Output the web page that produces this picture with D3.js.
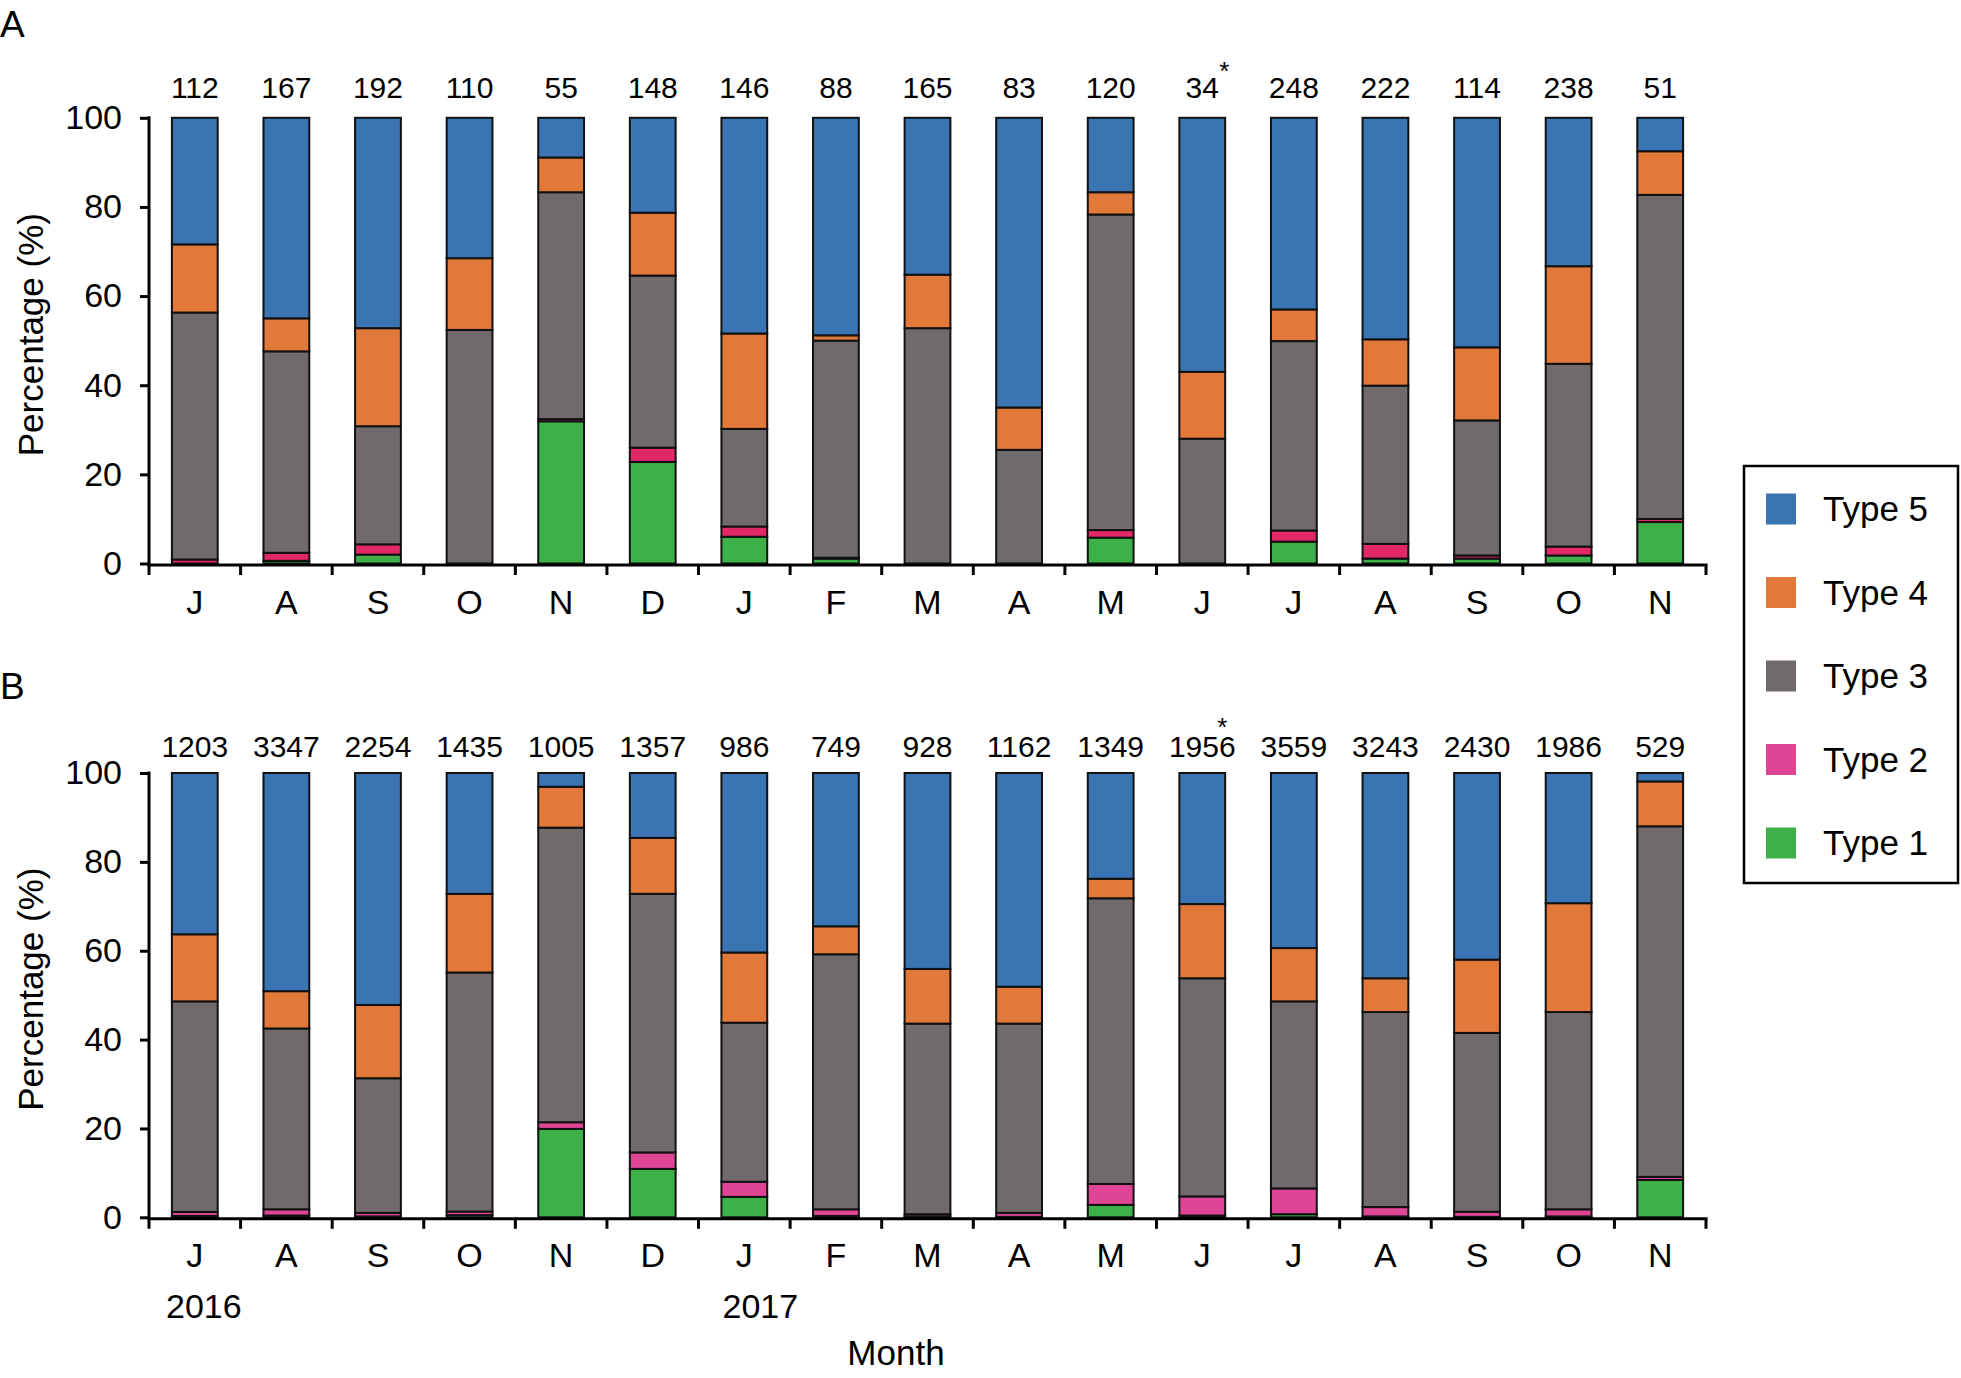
<!DOCTYPE html>
<html><head><meta charset="utf-8">
<script src="https://cdn.jsdelivr.net/npm/d3@7"></script>
<style>
body{margin:0;background:#fff;}
text{font-family:"Liberation Sans",Arial,sans-serif;fill:#000;}
</style></head>
<body>
<svg id="chart" width="1961" height="1378"></svg>
<script>
const months = ["J","A","S","O","N","D","J","F","M","A","M","J","J","A","S","O","N"];
const countsA = ["112","167","192","110","55","148","146","88","165","83","120","34","248","222","114","238","51"];
const countsB = ["1203","3347","2254","1435","1005","1357","986","749","928","1162","1349","1956","3559","3243","2430","1986","529"];
const starIndex = 11;
const yTicks = [0,20,40,60,80,100];
const typeNames = ["Type 1","Type 2","Type 3","Type 4","Type 5"];

// Panel A (%)
const a_type1 = [0,0.6,2.0,0,31.9,22.8,6.0,1.1,0,0,5.8,0,4.9,1.1,1.1,1.8,9.3];
const a_type2 = [0.9,1.8,2.3,0,0.5,3.2,2.3,0.2,0,0,1.7,0,2.5,3.3,0.7,2.0,0.7];
const a_type3 = [55.4,45.2,26.5,52.4,50.9,38.6,21.9,48.7,52.8,25.5,70.8,28.0,42.5,35.5,30.3,41.0,72.7];
const a_type4 = [15.3,7.4,22.0,16.1,7.8,14.1,21.4,1.2,12.0,9.5,5.0,15.0,7.1,10.4,16.4,21.9,9.8];
const a_type5 = [28.4,45.0,47.2,31.5,8.9,21.3,48.4,48.8,35.2,65.0,16.7,57.0,43.0,49.7,51.5,33.3,7.5];

// Panel B (%)
const b_type1 = [0.3,0.4,0.2,0.5,19.9,10.9,4.6,0.3,0.2,0.1,2.8,0.4,0.7,0.2,0.1,0.2,8.4];
const b_type2 = [0.9,1.4,0.8,0.8,1.5,3.7,3.4,1.5,0.5,0.9,4.7,4.3,5.8,2.1,1.15,1.6,0.7];
const b_type3 = [47.4,40.7,30.3,53.8,66.3,58.2,35.8,57.4,42.9,42.6,64.3,49.1,42.1,43.9,40.25,44.4,78.9];
const b_type4 = [15.1,8.4,16.5,17.7,9.2,12.6,15.8,6.3,12.3,8.3,4.4,16.7,12.0,7.6,16.5,24.5,10.1];
const b_type5 = [36.3,49.1,52.2,27.2,3.1,14.6,40.4,34.5,44.1,48.1,23.8,29.5,39.4,46.2,42.0,29.3,1.9];

const colors = ["#3eb049","#e3286a","#706a6c","#e2783a","#3a74b2"];
const colorsB = ["#3eb049","#df4595","#706a6c","#e2783a","#3a74b2"];
const legendColors = ["#3eb049","#df4595","#706a6c","#e2783a","#3a74b2"];

const svg = d3.select("#chart");
const xLeft = 149, xRight = 1706;
const x = d3.scaleBand().domain(d3.range(months.length)).range([xLeft, xRight]).paddingInner(0.5).paddingOuter(0.25);

function panel(cfg){
  const {types, counts, y0, y100, letter, letterY, cols, countOffset, star} = cfg;
  const y = d3.scaleLinear().domain([0,100]).range([y0, y100]);
  const rows = months.map((m,i)=>{const r={i}; types.forEach((t,k)=>r["t"+k]=t[i]); return r;});
  const keys = types.map((t,k)=>"t"+k);
  const stacked = d3.stack().keys(keys)(rows);
  const g = svg.append("g");
  g.selectAll("g.layer").data(stacked).join("g").attr("class","layer")
    .attr("fill",(d,k)=>cols[k])
    .selectAll("rect").data(d=>d.filter(s=>s[1]-s[0]>0)).join("rect")
    .attr("x",d=>x(d.data.i)).attr("width",x.bandwidth())
    .attr("y",d=>y(d[1])).attr("height",d=>y(d[0])-y(d[1]))
    .attr("stroke","#111").attr("stroke-width",2);

  // y axis
  const ya = d3.axisLeft(y).tickValues(yTicks).tickSize(9).tickPadding(18).tickFormat(d3.format("d"));
  const yg = g.append("g").attr("transform",`translate(${xLeft},0)`).call(ya);
  yg.select(".domain").remove();
  yg.selectAll(".tick line").attr("stroke","#000").attr("stroke-width",3);
  yg.selectAll(".tick text").attr("font-size",34).attr("font-family","Liberation Sans, Arial, sans-serif").attr("fill","#000");
  g.append("line").attr("x1",xLeft).attr("x2",xLeft).attr("y1",y(100)-1.5).attr("y2",y(0)+2)
    .attr("stroke","#000").attr("stroke-width",3);

  // x axis
  const axY = y(0)+1.5;
  g.append("line").attr("x1",xLeft-1.5).attr("x2",xRight+1.5).attr("y1",axY).attr("y2",axY)
    .attr("stroke","#000").attr("stroke-width",3);
  const bounds = d3.range(months.length+1).map(i=>xLeft + i*x.step());
  g.selectAll("line.xt").data(bounds).join("line").attr("class","xt")
    .attr("x1",d=>d).attr("x2",d=>d).attr("y1",axY).attr("y2",axY+10)
    .attr("stroke","#000").attr("stroke-width",3);
  g.selectAll("text.mon").data(months).join("text").attr("class","mon")
    .attr("x",(d,i)=>x(i)+x.bandwidth()/2).attr("y",y(0)+50)
    .attr("text-anchor","middle").attr("font-size",34).text(d=>d);

  // counts (the starred one carries its asterisk as a second text chunk)
  const cnt = g.selectAll("text.cnt").data(counts).join("text").attr("class","cnt")
    .attr("x",(d,i)=>x(i)+x.bandwidth()/2).attr("y",y(100)-countOffset)
    .attr("text-anchor","middle").attr("font-size",30).text(d=>d);
  const starText = cnt.filter((d,i)=>i===starIndex);
  starText.append("tspan").attr("x",star.dx + x(starIndex)+x.bandwidth()/2).attr("y",star.y)
    .attr("font-size",26).text("*");

  // y title
  const my = (y0+y100)/2 - 6;
  g.append("text").attr("transform",`translate(43,${my}) rotate(-90)`)
    .attr("text-anchor","middle").attr("font-size",35).text("Percentage (%)");
  g.append("text").attr("x",0).attr("y",letterY).attr("font-size",37).text(letter);
  return y;
}

panel({types:[a_type1,a_type2,a_type3,a_type4,a_type5], counts:countsA, y0:563.5, y100:117.8,
  letter:"A", letterY:37, cols:colors, countOffset:20, star:{dx:22,y:80}});
panel({types:[b_type1,b_type2,b_type3,b_type4,b_type5], counts:countsB, y0:1217.3, y100:773,
  letter:"B", letterY:699, cols:colorsB, countOffset:16, star:{dx:20,y:736}});

// years and axis title
svg.append("text").attr("x",x(0)+x.bandwidth()/2+9).attr("y",1318).attr("text-anchor","middle").attr("font-size",34).text("2016");
svg.append("text").attr("x",x(6)+x.bandwidth()/2+16).attr("y",1318).attr("text-anchor","middle").attr("font-size",34).text("2017");
svg.append("text").attr("x",896).attr("y",1365).attr("text-anchor","middle").attr("font-size",35).text("Month");

// legend
const lg = svg.append("g");
lg.append("rect").attr("x",1744).attr("y",466).attr("width",214).attr("height",417)
  .attr("fill","#fff").attr("stroke","#000").attr("stroke-width",2.5);
const legOrder = [4,3,2,1,0];
legOrder.forEach((k,j)=>{
  const cy = 509 + j*83.5;
  lg.append("rect").attr("x",1766).attr("y",cy-15.5).attr("width",30).attr("height",31).attr("fill",legendColors[k]);
  lg.append("text").attr("x",1823).attr("y",cy+12).attr("font-size",35).text(typeNames[k]);
});
</script>
</body></html>
